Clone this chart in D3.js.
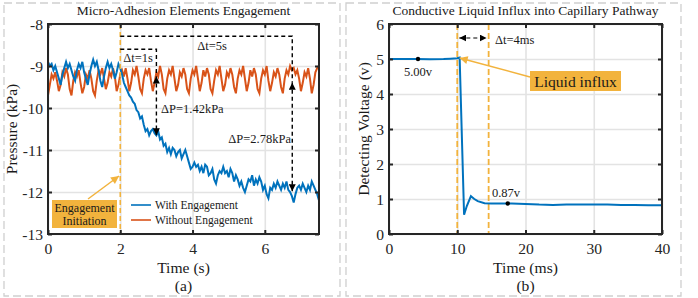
<!DOCTYPE html>
<html>
<head>
<meta charset="utf-8">
<script src="https://cdn.jsdelivr.net/npm/d3@7"></script>
<style>
  body { margin: 0; background: #fff; }
  svg text { font-family: "Liberation Serif", "Times New Roman", serif; font-weight: normal; }
  .grid line { stroke: #e3e3e3; stroke-width: 1.6; }
  .grid path { display: none; }
  .ax path, .ax line { stroke: #262626; stroke-width: 2; }
  .ax text { font-size: 15.6px; fill: #262626; }
</style>
</head>
<body>
<svg width="698" height="298"></svg>
<script>
/*****************************************
*   Data
*****************************************/

// panel (a): sampled every 0.05 s from 0 to 7.5 s
const A_DT = 0.05;
const withEngagement = [
  -8.90, -9.00, -8.95, -9.10, -9.00, -9.15, -9.30, -9.45, -9.20, -9.05,
  -8.90, -9.05, -8.95, -9.10, -9.25, -9.35, -9.10, -8.95, -9.05, -8.90,
  -9.15, -9.30, -9.45, -9.20, -9.00, -8.85, -9.00, -8.90, -9.10, -9.35,
  -9.50, -9.25, -9.05, -8.90, -9.05, -8.95, -9.10, -9.30, -9.15, -8.95,
  -9.05, -9.20, -9.40, -9.50, -9.60, -9.70, -9.75, -9.85, -9.90, -10.05,
  -10.10, -10.25, -10.20, -10.40, -10.55, -10.50, -10.65, -10.55, -10.50, -10.60,
  -10.65, -10.55, -10.75, -10.70, -10.90, -10.85, -11.05, -10.95, -11.10, -10.95,
  -11.00, -11.15, -11.05, -11.00, -11.20, -11.10, -11.00, -11.15, -11.30, -11.45,
  -11.40, -11.30, -11.40, -11.35, -11.50, -11.40, -11.55, -11.35, -11.40, -11.60,
  -11.55, -11.45, -11.70, -11.80, -11.60, -11.50, -11.55, -11.40, -11.55, -11.50,
  -11.65, -11.45, -11.55, -11.75, -11.60, -11.70, -11.85, -11.75, -11.90, -12.00,
  -11.85, -11.70, -11.75, -11.60, -11.85, -11.70, -11.80, -11.65, -11.75, -11.95,
  -11.85, -12.05, -12.15, -11.90, -11.95, -11.80, -11.90, -11.75, -11.85, -11.95,
  -11.80, -11.90, -11.75, -11.95, -12.00, -12.10, -12.25, -12.05, -11.90, -11.85,
  -11.95, -11.80, -11.90, -12.00, -11.85, -11.95, -11.75, -11.85, -11.95, -12.05,
  -12.20
];
const withoutEngagement = [
  -9.70, -9.45, -9.20, -9.30, -9.15, -9.35, -9.60, -9.45, -9.15, -9.25,
  -9.05, -9.20, -9.55, -9.70, -9.35, -9.15, -9.25, -9.10, -9.40, -9.65,
  -9.50, -9.20, -9.30, -9.10, -9.30, -9.60, -9.70, -9.35, -9.10, -9.20,
  -9.05, -9.30, -9.55, -9.40, -9.15, -9.25, -9.05, -9.25, -9.60, -9.45,
  -9.20, -9.10, -9.25, -9.05, -9.30, -9.60, -9.40, -9.10, -9.20, -9.00,
  -9.25, -9.55, -9.65, -9.30, -9.10, -9.20, -9.05, -9.35, -9.60, -9.40,
  -9.15, -9.25, -9.00, -9.20, -9.55, -9.65, -9.30, -9.10, -9.20, -9.00,
  -9.30, -9.60, -9.45, -9.15, -9.25, -9.05, -9.20, -9.55, -9.65, -9.30,
  -9.10, -9.20, -9.00, -9.30, -9.60, -9.40, -9.10, -9.25, -9.05, -9.20,
  -9.55, -9.65, -9.35, -9.10, -9.20, -9.00, -9.30, -9.60, -9.45, -9.15,
  -9.25, -9.05, -9.20, -9.50, -9.65, -9.30, -9.10, -9.20, -9.00, -9.30,
  -9.60, -9.40, -9.10, -9.25, -9.05, -9.20, -9.55, -9.65, -9.30, -9.10,
  -9.20, -9.00, -9.35, -9.60, -9.40, -9.15, -9.25, -9.05, -9.20, -9.50,
  -9.65, -9.30, -9.10, -9.20, -9.00, -9.10, -9.05, -9.20, -9.10, -9.30,
  -9.60, -9.40, -9.15, -9.25, -9.05, -9.30, -9.65, -9.45, -9.15, -9.05,
  -9.00
];
const aXTicks = [0, 2, 4, 6];
const aYTicks = [-13, -12, -11, -10, -9, -8];

// panel (b)
const bTime = [0, 2, 4, 6, 8, 9, 10, 10.35, 11.0, 11.4, 12, 12.5, 13, 14, 15, 16, 18,
               20, 22, 24, 26, 28, 30, 32, 34, 36, 38, 40];
const bVolt = [5.00, 5.00, 5.00, 4.99, 5.00, 5.01, 5.02, 5.04, 0.55, 0.80, 1.08, 1.00, 0.94, 0.88, 0.87, 0.87, 0.87,
               0.86, 0.84, 0.83, 0.84, 0.84, 0.84, 0.84, 0.83, 0.83, 0.82, 0.82];
const bXTicks = [0, 10, 20, 30, 40];
const bYTicks = [0, 1, 2, 3, 4, 5, 6];

const BLUE = '#0072BD';
const ORANGE = '#D95319';
const GOLD = '#F2B33D';
const SERIF = '"Liberation Serif", "Times New Roman", serif';
const BIG = 15.6;

/*****************************************
*   Setup
*****************************************/

const svg = d3.select('svg');

// light dashed panel borders
svg.append('rect').attr('x', 4).attr('y', 3).attr('width', 336).attr('height', 293)
  .attr('fill', 'none').attr('stroke', '#cfcfcf').attr('stroke-width', 1.3).attr('stroke-dasharray', '8,4');
svg.append('rect').attr('x', 346).attr('y', 3).attr('width', 335).attr('height', 293)
  .attr('fill', 'none').attr('stroke', '#cfcfcf').attr('stroke-width', 1.3).attr('stroke-dasharray', '8,4');

const defs = svg.append('defs');
function add_marker(id, color, w, h) {
  defs.append('marker')
    .attr('id', id)
    .attr('viewBox', '0 0 10 10')
    .attr('refX', 10).attr('refY', 5)
    .attr('markerUnits', 'userSpaceOnUse')
    .attr('markerWidth', w).attr('markerHeight', h)
    .attr('orient', 'auto-start-reverse')
    .append('path')
    .attr('d', 'M0,0 L10,5 L0,10 Z')
    .attr('fill', color);
}
add_marker('blk', '#000', 7, 7);
add_marker('gold', GOLD, 9, 8);

/*****************************************
*   Axes helper
*****************************************/

function build_frame(g, x, y, xt, yt) {
  const [x0, x1] = x.range();
  const [y0, y1] = y.range();
  g.append('g').attr('class', 'grid')
    .attr('transform', 'translate(0,' + y0 + ')')
    .call(d3.axisBottom(x).tickValues(xt).tickSize(-(y0 - y1)).tickFormat(''));
  g.append('g').attr('class', 'grid')
    .attr('transform', 'translate(' + x0 + ',0)')
    .call(d3.axisLeft(y).tickValues(yt).tickSize(-(x1 - x0)).tickFormat(''));
}

function build_axes(g, x, y, xt, yt) {
  const [x0, x1] = x.range();
  const [y0, y1] = y.range();
  const fmt = d => String(d);
  g.append('g').attr('class', 'ax').attr('transform', 'translate(0,' + y0 + ')')
    .call(d3.axisBottom(x).tickValues(xt).tickFormat(fmt).tickSizeInner(-4).tickSizeOuter(0).tickPadding(9));
  g.append('g').attr('class', 'ax').attr('transform', 'translate(' + x0 + ',0)')
    .call(d3.axisLeft(y).tickValues(yt).tickFormat(fmt).tickSizeInner(-4).tickSizeOuter(0).tickPadding(5));
  g.append('g').attr('class', 'ax').attr('transform', 'translate(0,' + y1 + ')')
    .call(d3.axisTop(x).tickValues(xt).tickSizeInner(-4).tickSizeOuter(0).tickFormat(''));
  g.append('g').attr('class', 'ax').attr('transform', 'translate(' + x1 + ',0)')
    .call(d3.axisRight(y).tickValues(yt).tickSizeInner(-4).tickSizeOuter(0).tickFormat(''));
  g.selectAll('.ax').attr('font-family', SERIF);
  g.selectAll('.ax .domain').remove();
  g.append('rect').attr('x', x0).attr('y', y1).attr('width', x1 - x0).attr('height', y0 - y1)
    .attr('fill', 'none').attr('stroke', '#262626').attr('stroke-width', 2);
}

function text(g, x, y, s, size, anchor) {
  return g.append('text').attr('x', x).attr('y', y).attr('font-size', size)
    .attr('font-family', SERIF)
    .attr('text-anchor', anchor || 'middle').attr('fill', '#1a1a1a').text(s);
}

function dashed(g, pts, color, w, dash) {
  return g.append('path').attr('d', d3.line()(pts)).attr('fill', 'none')
    .attr('stroke', color).attr('stroke-width', w).attr('stroke-dasharray', dash);
}

/*****************************************
*   Panel (a)
*****************************************/

const ga = svg.append('g');
const xA = d3.scaleLinear().domain([0, 7.5]).range([48, 319]);
const yA = d3.scaleLinear().domain([-13, -8]).range([234, 24]);

build_frame(ga, xA, yA, aXTicks, aYTicks);

const lineA = d3.line().x((d, i) => xA(i * A_DT)).y(d => yA(d));
ga.append('path').datum(withoutEngagement).attr('d', lineA)
  .attr('fill', 'none').attr('stroke', ORANGE).attr('stroke-width', 2);
ga.append('path').datum(withEngagement).attr('d', lineA)
  .attr('fill', 'none').attr('stroke', BLUE).attr('stroke-width', 2);

// engagement line at t = 2
dashed(ga, [[xA(2), yA(-8)], [xA(2), yA(-13)]], GOLD, 1.6, '5,3');

// delta t brackets
dashed(ga, [[xA(2), yA(-8.29)], [xA(6.76), yA(-8.29)], [xA(6.76), yA(-9.4)]], '#000', 1.4, '4,3');
dashed(ga, [[xA(6.76), yA(-9.4)], [xA(6.76), yA(-11.98)]], '#000', 1.4, '4,3')
  .attr('marker-start', 'url(#blk)').attr('marker-end', 'url(#blk)');
dashed(ga, [[xA(2), yA(-8.6)], [xA(3), yA(-8.6)], [xA(3), yA(-9.25)]], '#000', 1.4, '4,3');
dashed(ga, [[xA(3), yA(-9.25)], [xA(3), yA(-10.65)]], '#000', 1.4, '4,3')
  .attr('marker-start', 'url(#blk)').attr('marker-end', 'url(#blk)');

text(ga, 212, 50, 'Δt=5s', 12.5);
text(ga, 138, 62, 'Δt=1s', 12.5);
text(ga, 161, 113, 'ΔP=1.42kPa', 12.5, 'start');
text(ga, 291, 143, 'ΔP=2.78kPa', 12.5, 'end');

// engagement initiation label
ga.append('rect').attr('x', 52).attr('y', 200).attr('width', 65).attr('height', 28).attr('fill', GOLD);
text(ga, 84.5, 212, 'Engagement', 12);
text(ga, 84.5, 225, 'Initiation', 12);
ga.append('line').attr('x1', 88).attr('y1', 199).attr('x2', 119).attr('y2', 176)
  .attr('stroke', GOLD).attr('stroke-width', 1.5).attr('marker-end', 'url(#gold)');

// legend
const legendA = [['With Engagement', BLUE], ['Without Engagement', ORANGE]];
legendA.forEach(function(d, i) {
  const ly = 205 + i * 15;
  ga.append('line').attr('x1', 131).attr('x2', 151).attr('y1', ly).attr('y2', ly)
    .attr('stroke', d[1]).attr('stroke-width', 1.6);
  text(ga, 155, ly + 4, d[0], 11.5, 'start');
});

build_axes(ga, xA, yA, aXTicks, aYTicks);

text(ga, 183.5, 15, 'Micro-Adhesion Elements Engagement', 13.5);
text(ga, 183.5, 273, 'Time (s)', BIG);
text(ga, 183.5, 291, '(a)', BIG);
ga.append('text').attr('transform', 'translate(17,129) rotate(-90)')
  .attr('font-family', SERIF)
  .attr('text-anchor', 'middle').attr('font-size', BIG).attr('fill', '#1a1a1a').text('Pressure (kPa)');

/*****************************************
*   Panel (b)
*****************************************/

const gb = svg.append('g');
const xB = d3.scaleLinear().domain([0, 40]).range([389, 662]);
const yB = d3.scaleLinear().domain([0, 6]).range([234, 24]);

build_frame(gb, xB, yB, bXTicks, bYTicks);

dashed(gb, [[xB(10), yB(6)], [xB(10), yB(0)]], GOLD, 1.8, '6,3');
dashed(gb, [[xB(14.6), yB(6)], [xB(14.6), yB(0)]], GOLD, 1.8, '6,3');

const lineB = d3.line().x((d, i) => xB(bTime[i])).y(d => yB(d));
gb.append('path').datum(bVolt).attr('d', lineB)
  .attr('fill', 'none').attr('stroke', BLUE).attr('stroke-width', 2);

gb.append('circle').attr('cx', xB(4.25)).attr('cy', yB(5.0)).attr('r', 2.2).attr('fill', '#000');
gb.append('circle').attr('cx', xB(17.4)).attr('cy', yB(0.87)).attr('r', 2.2).attr('fill', '#000');
text(gb, xB(4.25), 76, '5.00v', 12.5);
text(gb, 506, 197, '0.87v', 12.5);

dashed(gb, [[xB(10.3), yB(5.6)], [xB(14.3), yB(5.6)]], '#000', 1.2, '4,3')
  .attr('marker-start', 'url(#blk)').attr('marker-end', 'url(#blk)');
text(gb, 495, 44, 'Δt=4ms', 12.5, 'start');

gb.append('rect').attr('x', 530).attr('y', 71).attr('width', 91).attr('height', 20).attr('fill', GOLD);
text(gb, 575.5, 86.5, 'Liquid influx', BIG);
gb.append('line').attr('x1', 530).attr('y1', 77).attr('x2', xB(10.35)).attr('y2', yB(5.03))
  .attr('stroke', GOLD).attr('stroke-width', 1.5).attr('marker-end', 'url(#gold)');

build_axes(gb, xB, yB, bXTicks, bYTicks);

text(gb, 525.5, 15, 'Conductive Liquid Influx into Capillary Pathway', 13.5);
text(gb, 525.5, 273, 'Time (ms)', BIG);
text(gb, 525.5, 291, '(b)', BIG);
gb.append('text').attr('transform', 'translate(369,129) rotate(-90)')
  .attr('font-family', SERIF)
  .attr('text-anchor', 'middle').attr('font-size', BIG).attr('fill', '#1a1a1a').text('Detecting Voltage (v)');
</script>
</body>
</html>
